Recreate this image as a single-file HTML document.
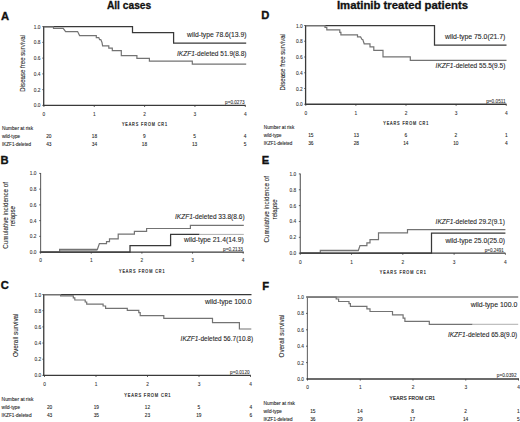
<!DOCTYPE html>
<html><head><meta charset="utf-8"><style>
html,body{margin:0;padding:0;background:#fff;}
svg{display:block;}
text{font-family:"Liberation Sans",sans-serif;}
</style></head><body>
<svg width="520" height="422" viewBox="0 0 520 422" fill="#262626">
<rect width="520" height="422" fill="#fff"/>
<path d="M43.7 26.3V105.4" fill="none" stroke="#3a3a3a" stroke-width="1.3"/>
<path d="M43.20 105.4H245.6" fill="none" stroke="#3a3a3a" stroke-width="1.3"/>
<path d="M42.30 105.40H43.7" stroke="#3a3a3a" stroke-width="0.8"/>
<text x="40.4" y="107.40" font-size="4.8" text-anchor="end" stroke="#333" stroke-width="0.08" fill="#333">0.0</text>
<path d="M42.30 89.64H43.7" stroke="#3a3a3a" stroke-width="0.8"/>
<text x="40.4" y="91.64" font-size="4.8" text-anchor="end" stroke="#333" stroke-width="0.08" fill="#333">0.2</text>
<path d="M42.30 73.88H43.7" stroke="#3a3a3a" stroke-width="0.8"/>
<text x="40.4" y="75.88" font-size="4.8" text-anchor="end" stroke="#333" stroke-width="0.08" fill="#333">0.4</text>
<path d="M42.30 58.12H43.7" stroke="#3a3a3a" stroke-width="0.8"/>
<text x="40.4" y="60.12" font-size="4.8" text-anchor="end" stroke="#333" stroke-width="0.08" fill="#333">0.6</text>
<path d="M42.30 42.36H43.7" stroke="#3a3a3a" stroke-width="0.8"/>
<text x="40.4" y="44.36" font-size="4.8" text-anchor="end" stroke="#333" stroke-width="0.08" fill="#333">0.8</text>
<path d="M42.30 26.60H43.7" stroke="#3a3a3a" stroke-width="0.8"/>
<text x="40.4" y="28.60" font-size="4.8" text-anchor="end" stroke="#333" stroke-width="0.08" fill="#333">1.0</text>
<path d="M43.90 105.4v1.6" stroke="#3a3a3a" stroke-width="0.8"/>
<text x="43.90" y="115.9" font-size="4.8" text-anchor="middle" stroke="#333" stroke-width="0.08" fill="#333">0</text>
<path d="M94.25 105.4v1.6" stroke="#3a3a3a" stroke-width="0.8"/>
<text x="94.25" y="115.9" font-size="4.8" text-anchor="middle" stroke="#333" stroke-width="0.08" fill="#333">1</text>
<path d="M144.60 105.4v1.6" stroke="#3a3a3a" stroke-width="0.8"/>
<text x="144.60" y="115.9" font-size="4.8" text-anchor="middle" stroke="#333" stroke-width="0.08" fill="#333">2</text>
<path d="M194.95 105.4v1.6" stroke="#3a3a3a" stroke-width="0.8"/>
<text x="194.95" y="115.9" font-size="4.8" text-anchor="middle" stroke="#333" stroke-width="0.08" fill="#333">3</text>
<path d="M245.30 105.4v1.6" stroke="#3a3a3a" stroke-width="0.8"/>
<text x="245.30" y="115.9" font-size="4.8" text-anchor="middle" stroke="#333" stroke-width="0.08" fill="#333">4</text>
<text transform="translate(121.9 125.8) scale(0.8 1)" x="0" y="0" font-size="4.7" textLength="56.37" lengthAdjust="spacing" fill="#2a2a2a" stroke="#2a2a2a" stroke-width="0.2">YEARS FROM CR1</text>
<path d="M43.7 26.6H132.5V32.6H173.6V43.2H246.2" fill="none" stroke="#383838" stroke-width="1.25"/>
<path d="M43.7 26.8H53.5V28.3H63.2L65.6 31.6H77.6L79.6 35.6H96.3V37.6H98.8L99.6 39.6H100.8L102 42.5L102.6 45.9H108.8V48.1H112.3V50.6H121.3V55.6H136.9V58.4H149.4V61.2H192.3V64.2H246.2" fill="none" stroke="#737373" stroke-width="1.2"/>
<text x="187.0" y="36.9" font-size="7.1" text-anchor="start" stroke="#262626" stroke-width="0.1" textLength="59.50" lengthAdjust="spacingAndGlyphs">wild-type 78.6(13.9)</text>
<text x="177.0" y="56.1" font-size="7.1" textLength="69.50" lengthAdjust="spacingAndGlyphs" stroke="#262626" stroke-width="0.1"><tspan font-style="italic">IKZF1</tspan>-deleted 51.9(8.8)</text>
<text x="225.1" y="104.2" font-size="4.7" text-anchor="start" stroke="#333" stroke-width="0.08" fill="#333" textLength="19.50" lengthAdjust="spacingAndGlyphs">p=0.0273</text>
<text transform="translate(25.1 63.35) rotate(-90)" x="0" y="0" font-size="6.9" text-anchor="middle" textLength="56.6" lengthAdjust="spacingAndGlyphs" fill="#222" stroke="#222" stroke-width="0.08">Disease free survival</text>
<text x="2.0" y="130.3" font-size="4.6" text-anchor="start" stroke="#222" stroke-width="0.08" fill="#222" textLength="31.10" lengthAdjust="spacingAndGlyphs">Number at risk</text>
<text x="2.0" y="138.0" font-size="4.6" text-anchor="start" stroke="#222" stroke-width="0.08" fill="#222" textLength="18.00" lengthAdjust="spacingAndGlyphs">wild-type</text>
<text x="2.0" y="145.7" font-size="4.6" text-anchor="start" stroke="#222" stroke-width="0.08" fill="#222" textLength="29.00" lengthAdjust="spacingAndGlyphs">IKZF1-deleted</text>
<text x="48.8" y="138.0" font-size="4.8" text-anchor="middle" stroke="#222" stroke-width="0.08" fill="#222">20</text>
<text x="94.4" y="138.0" font-size="4.8" text-anchor="middle" stroke="#222" stroke-width="0.08" fill="#222">18</text>
<text x="144.4" y="138.0" font-size="4.8" text-anchor="middle" stroke="#222" stroke-width="0.08" fill="#222">9</text>
<text x="194.6" y="138.0" font-size="4.8" text-anchor="middle" stroke="#222" stroke-width="0.08" fill="#222">5</text>
<text x="245.0" y="138.0" font-size="4.8" text-anchor="middle" stroke="#222" stroke-width="0.08" fill="#222">4</text>
<text x="48.8" y="145.7" font-size="4.8" text-anchor="middle" stroke="#222" stroke-width="0.08" fill="#222">43</text>
<text x="94.4" y="145.7" font-size="4.8" text-anchor="middle" stroke="#222" stroke-width="0.08" fill="#222">34</text>
<text x="144.4" y="145.7" font-size="4.8" text-anchor="middle" stroke="#222" stroke-width="0.08" fill="#222">18</text>
<text x="194.6" y="145.7" font-size="4.8" text-anchor="middle" stroke="#222" stroke-width="0.08" fill="#222">13</text>
<text x="245.0" y="145.7" font-size="4.8" text-anchor="middle" stroke="#222" stroke-width="0.08" fill="#222">5</text>
<path d="M40.6 173.1V252.1" fill="none" stroke="#666" stroke-width="1.1"/>
<path d="M40.10 252.1H243.8" fill="none" stroke="#3a3a3a" stroke-width="1.3"/>
<path d="M39.20 252.10H40.6" stroke="#3a3a3a" stroke-width="0.8"/>
<text x="36.4" y="254.10" font-size="4.8" text-anchor="end" stroke="#333" stroke-width="0.08" fill="#333">0.0</text>
<path d="M39.20 236.36H40.6" stroke="#3a3a3a" stroke-width="0.8"/>
<text x="36.4" y="238.36" font-size="4.8" text-anchor="end" stroke="#333" stroke-width="0.08" fill="#333">0.2</text>
<path d="M39.20 220.62H40.6" stroke="#3a3a3a" stroke-width="0.8"/>
<text x="36.4" y="222.62" font-size="4.8" text-anchor="end" stroke="#333" stroke-width="0.08" fill="#333">0.4</text>
<path d="M39.20 204.88H40.6" stroke="#3a3a3a" stroke-width="0.8"/>
<text x="36.4" y="206.88" font-size="4.8" text-anchor="end" stroke="#333" stroke-width="0.08" fill="#333">0.6</text>
<path d="M39.20 189.14H40.6" stroke="#3a3a3a" stroke-width="0.8"/>
<text x="36.4" y="191.14" font-size="4.8" text-anchor="end" stroke="#333" stroke-width="0.08" fill="#333">0.8</text>
<path d="M39.20 173.40H40.6" stroke="#3a3a3a" stroke-width="0.8"/>
<text x="36.4" y="175.40" font-size="4.8" text-anchor="end" stroke="#333" stroke-width="0.08" fill="#333">1.0</text>
<path d="M40.60 252.1v1.6" stroke="#3a3a3a" stroke-width="0.8"/>
<text x="40.60" y="262.2" font-size="4.8" text-anchor="middle" stroke="#333" stroke-width="0.08" fill="#333">0</text>
<path d="M91.25 252.1v1.6" stroke="#3a3a3a" stroke-width="0.8"/>
<text x="91.25" y="262.2" font-size="4.8" text-anchor="middle" stroke="#333" stroke-width="0.08" fill="#333">1</text>
<path d="M141.90 252.1v1.6" stroke="#3a3a3a" stroke-width="0.8"/>
<text x="141.90" y="262.2" font-size="4.8" text-anchor="middle" stroke="#333" stroke-width="0.08" fill="#333">2</text>
<path d="M192.55 252.1v1.6" stroke="#3a3a3a" stroke-width="0.8"/>
<text x="192.55" y="262.2" font-size="4.8" text-anchor="middle" stroke="#333" stroke-width="0.08" fill="#333">3</text>
<path d="M243.20 252.1v1.6" stroke="#3a3a3a" stroke-width="0.8"/>
<text x="243.20" y="262.2" font-size="4.8" text-anchor="middle" stroke="#333" stroke-width="0.08" fill="#333">4</text>
<text transform="translate(119.0 272.8) scale(0.8 1)" x="0" y="0" font-size="4.7" textLength="57.00" lengthAdjust="spacing" fill="#2a2a2a" stroke="#2a2a2a" stroke-width="0.2">YEARS FROM CR1</text>
<rect x="59.6" y="249.3" width="37.8" height="2.4" fill="#a4a4a4"/>
<path d="M40.6 252H59.6V249.3H97.4L99.4 243.6H106.5V241.7H109.5V238.8H118.2V234.1H134.4V231.3H146.6V228.5H190.4V225.3H243.8" fill="none" stroke="#737373" stroke-width="1.2"/>
<path d="M40.6 252.1H130V245.5H170.6V234.4H199.4" fill="none" stroke="#383838" stroke-width="1.25"/>
<path d="M199.4 234.4H243.8" fill="none" stroke="#8a8a8a" stroke-width="0.7"/>
<text x="175.0" y="219.1" font-size="7.1" textLength="69.60" lengthAdjust="spacingAndGlyphs" stroke="#262626" stroke-width="0.1"><tspan font-style="italic">IKZF1</tspan>-deleted 33.8(8.6)</text>
<text x="184.0" y="241.9" font-size="7.1" text-anchor="start" stroke="#262626" stroke-width="0.1" textLength="59.80" lengthAdjust="spacingAndGlyphs">wild-type 21.4(14.9)</text>
<text x="223.1" y="251.2" font-size="4.7" text-anchor="start" stroke="#333" stroke-width="0.08" fill="#333" textLength="19.80" lengthAdjust="spacingAndGlyphs">p=0.2133</text>
<text transform="translate(7.7 215.3) rotate(-90)" x="0" y="0" font-size="6.9" text-anchor="middle" textLength="66.8" lengthAdjust="spacingAndGlyphs" fill="#222" stroke="#222" stroke-width="0.08">Cumulative incidence of</text>
<text transform="translate(15.4 216.1) rotate(-90)" x="0" y="0" font-size="6.9" text-anchor="middle" textLength="20.2" lengthAdjust="spacingAndGlyphs" fill="#222" stroke="#222" stroke-width="0.08">relapse</text>
<path d="M43.75 294.2V375.4" fill="none" stroke="#3a3a3a" stroke-width="1.3"/>
<path d="M43.25 375.4H250.8" fill="none" stroke="#3a3a3a" stroke-width="1.3"/>
<path d="M42.35 375.40H43.75" stroke="#3a3a3a" stroke-width="0.8"/>
<text x="41.2" y="377.40" font-size="4.8" text-anchor="end" stroke="#333" stroke-width="0.08" fill="#333">0.0</text>
<path d="M42.35 359.22H43.75" stroke="#3a3a3a" stroke-width="0.8"/>
<text x="41.2" y="361.22" font-size="4.8" text-anchor="end" stroke="#333" stroke-width="0.08" fill="#333">0.2</text>
<path d="M42.35 343.04H43.75" stroke="#3a3a3a" stroke-width="0.8"/>
<text x="41.2" y="345.04" font-size="4.8" text-anchor="end" stroke="#333" stroke-width="0.08" fill="#333">0.4</text>
<path d="M42.35 326.86H43.75" stroke="#3a3a3a" stroke-width="0.8"/>
<text x="41.2" y="328.86" font-size="4.8" text-anchor="end" stroke="#333" stroke-width="0.08" fill="#333">0.6</text>
<path d="M42.35 310.68H43.75" stroke="#3a3a3a" stroke-width="0.8"/>
<text x="41.2" y="312.68" font-size="4.8" text-anchor="end" stroke="#333" stroke-width="0.08" fill="#333">0.8</text>
<path d="M42.35 294.50H43.75" stroke="#3a3a3a" stroke-width="0.8"/>
<text x="41.2" y="296.50" font-size="4.8" text-anchor="end" stroke="#333" stroke-width="0.08" fill="#333">1.0</text>
<path d="M44.50 375.4v1.6" stroke="#3a3a3a" stroke-width="0.8"/>
<text x="44.50" y="385.8" font-size="4.8" text-anchor="middle" stroke="#333" stroke-width="0.08" fill="#333">0</text>
<path d="M96.00 375.4v1.6" stroke="#3a3a3a" stroke-width="0.8"/>
<text x="96.00" y="385.8" font-size="4.8" text-anchor="middle" stroke="#333" stroke-width="0.08" fill="#333">1</text>
<path d="M147.50 375.4v1.6" stroke="#3a3a3a" stroke-width="0.8"/>
<text x="147.50" y="385.8" font-size="4.8" text-anchor="middle" stroke="#333" stroke-width="0.08" fill="#333">2</text>
<path d="M199.00 375.4v1.6" stroke="#3a3a3a" stroke-width="0.8"/>
<text x="199.00" y="385.8" font-size="4.8" text-anchor="middle" stroke="#333" stroke-width="0.08" fill="#333">3</text>
<path d="M250.50 375.4v1.6" stroke="#3a3a3a" stroke-width="0.8"/>
<text x="250.50" y="385.8" font-size="4.8" text-anchor="middle" stroke="#333" stroke-width="0.08" fill="#333">4</text>
<text transform="translate(124.2 396.7) scale(0.8 1)" x="0" y="0" font-size="5.0" textLength="58.00" lengthAdjust="spacing" fill="#2a2a2a" stroke="#2a2a2a" stroke-width="0.2">YEARS FROM CR1</text>
<path d="M43.75 294.5H251.5" fill="none" stroke="#383838" stroke-width="1.25"/>
<path d="M43.75 294.7H60.6V295.9H73.3V297.8H74.8V300H85.2V302H86.7V304.1H103.1V306H105.6V308.4H127.3V310.4H138.8V312.6H140.2V315.6H163.8V318.3H212.5V322.6H239.4V329H251.3" fill="none" stroke="#737373" stroke-width="1.2"/>
<text x="205.0" y="304.4" font-size="7.1" text-anchor="start" stroke="#262626" stroke-width="0.1" textLength="46.50" lengthAdjust="spacingAndGlyphs">wild-type 100.0</text>
<text x="180.6" y="341.3" font-size="7.1" textLength="72.50" lengthAdjust="spacingAndGlyphs" stroke="#262626" stroke-width="0.1"><tspan font-style="italic">IKZF1</tspan>-deleted 56.7(10.8)</text>
<text x="230.1" y="374.1" font-size="4.7" text-anchor="start" stroke="#333" stroke-width="0.08" fill="#333" textLength="19.50" lengthAdjust="spacingAndGlyphs">p=0.0120</text>
<text transform="translate(18.3 335.2) rotate(-90)" x="0" y="0" font-size="6.9" text-anchor="middle" textLength="43.4" lengthAdjust="spacingAndGlyphs" fill="#222" stroke="#222" stroke-width="0.08">Overall survival</text>
<text x="1.6" y="401.0" font-size="4.6" text-anchor="start" stroke="#222" stroke-width="0.08" fill="#222" textLength="31.90" lengthAdjust="spacingAndGlyphs">Number at risk</text>
<text x="1.6" y="409.1" font-size="4.6" text-anchor="start" stroke="#222" stroke-width="0.08" fill="#222" textLength="18.40" lengthAdjust="spacingAndGlyphs">wild-type</text>
<text x="1.6" y="417.0" font-size="4.6" text-anchor="start" stroke="#222" stroke-width="0.08" fill="#222" textLength="30.00" lengthAdjust="spacingAndGlyphs">IKZF1-deleted</text>
<text x="49.6" y="409.1" font-size="4.8" text-anchor="middle" stroke="#222" stroke-width="0.08" fill="#222">20</text>
<text x="96.3" y="409.1" font-size="4.8" text-anchor="middle" stroke="#222" stroke-width="0.08" fill="#222">19</text>
<text x="147.5" y="409.1" font-size="4.8" text-anchor="middle" stroke="#222" stroke-width="0.08" fill="#222">12</text>
<text x="198.8" y="409.1" font-size="4.8" text-anchor="middle" stroke="#222" stroke-width="0.08" fill="#222">5</text>
<text x="250.8" y="409.1" font-size="4.8" text-anchor="middle" stroke="#222" stroke-width="0.08" fill="#222">4</text>
<text x="49.6" y="417.0" font-size="4.8" text-anchor="middle" stroke="#222" stroke-width="0.08" fill="#222">43</text>
<text x="96.3" y="417.0" font-size="4.8" text-anchor="middle" stroke="#222" stroke-width="0.08" fill="#222">35</text>
<text x="147.5" y="417.0" font-size="4.8" text-anchor="middle" stroke="#222" stroke-width="0.08" fill="#222">23</text>
<text x="198.8" y="417.0" font-size="4.8" text-anchor="middle" stroke="#222" stroke-width="0.08" fill="#222">19</text>
<text x="250.8" y="417.0" font-size="4.8" text-anchor="middle" stroke="#222" stroke-width="0.08" fill="#222">6</text>
<path d="M305.6 25.2V104.25" fill="none" stroke="#3a3a3a" stroke-width="1.3"/>
<path d="M305.10 104.25H506.5" fill="none" stroke="#3a3a3a" stroke-width="1.3"/>
<path d="M304.20 104.25H305.6" stroke="#3a3a3a" stroke-width="0.8"/>
<text x="302.6" y="106.25" font-size="4.8" text-anchor="end" stroke="#333" stroke-width="0.08" fill="#333">0.0</text>
<path d="M304.20 88.50H305.6" stroke="#3a3a3a" stroke-width="0.8"/>
<text x="302.6" y="90.50" font-size="4.8" text-anchor="end" stroke="#333" stroke-width="0.08" fill="#333">0.2</text>
<path d="M304.20 72.75H305.6" stroke="#3a3a3a" stroke-width="0.8"/>
<text x="302.6" y="74.75" font-size="4.8" text-anchor="end" stroke="#333" stroke-width="0.08" fill="#333">0.4</text>
<path d="M304.20 57.00H305.6" stroke="#3a3a3a" stroke-width="0.8"/>
<text x="302.6" y="59.00" font-size="4.8" text-anchor="end" stroke="#333" stroke-width="0.08" fill="#333">0.6</text>
<path d="M304.20 41.25H305.6" stroke="#3a3a3a" stroke-width="0.8"/>
<text x="302.6" y="43.25" font-size="4.8" text-anchor="end" stroke="#333" stroke-width="0.08" fill="#333">0.8</text>
<path d="M304.20 25.50H305.6" stroke="#3a3a3a" stroke-width="0.8"/>
<text x="302.6" y="27.50" font-size="4.8" text-anchor="end" stroke="#333" stroke-width="0.08" fill="#333">1.0</text>
<path d="M305.75 104.25v1.6" stroke="#3a3a3a" stroke-width="0.8"/>
<text x="305.75" y="114.7" font-size="4.8" text-anchor="middle" stroke="#333" stroke-width="0.08" fill="#333">0</text>
<path d="M355.88 104.25v1.6" stroke="#3a3a3a" stroke-width="0.8"/>
<text x="355.88" y="114.7" font-size="4.8" text-anchor="middle" stroke="#333" stroke-width="0.08" fill="#333">1</text>
<path d="M406.00 104.25v1.6" stroke="#3a3a3a" stroke-width="0.8"/>
<text x="406.00" y="114.7" font-size="4.8" text-anchor="middle" stroke="#333" stroke-width="0.08" fill="#333">2</text>
<path d="M456.12 104.25v1.6" stroke="#3a3a3a" stroke-width="0.8"/>
<text x="456.12" y="114.7" font-size="4.8" text-anchor="middle" stroke="#333" stroke-width="0.08" fill="#333">3</text>
<path d="M506.25 104.25v1.6" stroke="#3a3a3a" stroke-width="0.8"/>
<text x="506.25" y="114.7" font-size="4.8" text-anchor="middle" stroke="#333" stroke-width="0.08" fill="#333">4</text>
<text transform="translate(383.3 124.8) scale(0.8 1)" x="0" y="0" font-size="4.7" textLength="56.25" lengthAdjust="spacing" fill="#2a2a2a" stroke="#2a2a2a" stroke-width="0.2">YEARS FROM CR1</text>
<path d="M305.6 25.5H434.5V45H506.5" fill="none" stroke="#383838" stroke-width="1.25"/>
<path d="M305.6 25.7H325V27.4H326.8V29.8H339.8V32.3H340.9V34.8H357.5V36.9H360.6L362 39.5H362.8L364.2 43.8H370V46.9H373.8V50.3H383V56.9H410.3V60.3H506.5" fill="none" stroke="#737373" stroke-width="1.2"/>
<text x="445.0" y="38.9" font-size="7.1" text-anchor="start" stroke="#262626" stroke-width="0.1" textLength="60.40" lengthAdjust="spacingAndGlyphs">wild-type 75.0(21.7)</text>
<text x="435.6" y="68.1" font-size="7.1" textLength="69.80" lengthAdjust="spacingAndGlyphs" stroke="#262626" stroke-width="0.1"><tspan font-style="italic">IKZF1</tspan>-deleted 55.5(9.5)</text>
<text x="486.2" y="103.2" font-size="4.7" text-anchor="start" stroke="#333" stroke-width="0.08" fill="#333" textLength="19.50" lengthAdjust="spacingAndGlyphs">p=0.0511</text>
<text transform="translate(285.2 62.3) rotate(-90)" x="0" y="0" font-size="6.9" text-anchor="middle" textLength="56.4" lengthAdjust="spacingAndGlyphs" fill="#222" stroke="#222" stroke-width="0.08">Disease free survival</text>
<text x="263.8" y="128.6" font-size="4.6" text-anchor="start" stroke="#222" stroke-width="0.08" fill="#222" textLength="30.50" lengthAdjust="spacingAndGlyphs">Number at risk</text>
<text x="263.8" y="136.6" font-size="4.6" text-anchor="start" stroke="#222" stroke-width="0.08" fill="#222" textLength="17.80" lengthAdjust="spacingAndGlyphs">wild-type</text>
<text x="263.8" y="144.6" font-size="4.6" text-anchor="start" stroke="#222" stroke-width="0.08" fill="#222" textLength="28.50" lengthAdjust="spacingAndGlyphs">IKZF1-deleted</text>
<text x="310.8" y="136.6" font-size="4.8" text-anchor="middle" stroke="#222" stroke-width="0.08" fill="#222">15</text>
<text x="356.3" y="136.6" font-size="4.8" text-anchor="middle" stroke="#222" stroke-width="0.08" fill="#222">13</text>
<text x="405.8" y="136.6" font-size="4.8" text-anchor="middle" stroke="#222" stroke-width="0.08" fill="#222">6</text>
<text x="455.8" y="136.6" font-size="4.8" text-anchor="middle" stroke="#222" stroke-width="0.08" fill="#222">2</text>
<text x="506.3" y="136.6" font-size="4.8" text-anchor="middle" stroke="#222" stroke-width="0.08" fill="#222">1</text>
<text x="310.8" y="144.6" font-size="4.8" text-anchor="middle" stroke="#222" stroke-width="0.08" fill="#222">36</text>
<text x="356.3" y="144.6" font-size="4.8" text-anchor="middle" stroke="#222" stroke-width="0.08" fill="#222">28</text>
<text x="405.8" y="144.6" font-size="4.8" text-anchor="middle" stroke="#222" stroke-width="0.08" fill="#222">14</text>
<text x="455.8" y="144.6" font-size="4.8" text-anchor="middle" stroke="#222" stroke-width="0.08" fill="#222">10</text>
<text x="506.3" y="144.6" font-size="4.8" text-anchor="middle" stroke="#222" stroke-width="0.08" fill="#222">4</text>
<path d="M300.25 173.6V253.2" fill="none" stroke="#4a4a4a" stroke-width="1.0"/>
<path d="M299.75 253.2H505.4" fill="none" stroke="#3a3a3a" stroke-width="1.3"/>
<path d="M298.85 253.20H300.25" stroke="#3a3a3a" stroke-width="0.8"/>
<text x="296.2" y="255.20" font-size="4.8" text-anchor="end" stroke="#333" stroke-width="0.08" fill="#333">0.0</text>
<path d="M298.85 237.34H300.25" stroke="#3a3a3a" stroke-width="0.8"/>
<text x="296.2" y="239.34" font-size="4.8" text-anchor="end" stroke="#333" stroke-width="0.08" fill="#333">0.2</text>
<path d="M298.85 221.48H300.25" stroke="#3a3a3a" stroke-width="0.8"/>
<text x="296.2" y="223.48" font-size="4.8" text-anchor="end" stroke="#333" stroke-width="0.08" fill="#333">0.4</text>
<path d="M298.85 205.62H300.25" stroke="#3a3a3a" stroke-width="0.8"/>
<text x="296.2" y="207.62" font-size="4.8" text-anchor="end" stroke="#333" stroke-width="0.08" fill="#333">0.6</text>
<path d="M298.85 189.76H300.25" stroke="#3a3a3a" stroke-width="0.8"/>
<text x="296.2" y="191.76" font-size="4.8" text-anchor="end" stroke="#333" stroke-width="0.08" fill="#333">0.8</text>
<path d="M298.85 173.90H300.25" stroke="#3a3a3a" stroke-width="0.8"/>
<text x="296.2" y="175.90" font-size="4.8" text-anchor="end" stroke="#333" stroke-width="0.08" fill="#333">1.0</text>
<path d="M300.25 253.2v1.6" stroke="#3a3a3a" stroke-width="0.8"/>
<text x="300.25" y="263.6" font-size="4.8" text-anchor="middle" stroke="#333" stroke-width="0.08" fill="#333">0</text>
<path d="M351.54 253.2v1.6" stroke="#3a3a3a" stroke-width="0.8"/>
<text x="351.54" y="263.6" font-size="4.8" text-anchor="middle" stroke="#333" stroke-width="0.08" fill="#333">1</text>
<path d="M402.82 253.2v1.6" stroke="#3a3a3a" stroke-width="0.8"/>
<text x="402.82" y="263.6" font-size="4.8" text-anchor="middle" stroke="#333" stroke-width="0.08" fill="#333">2</text>
<path d="M454.11 253.2v1.6" stroke="#3a3a3a" stroke-width="0.8"/>
<text x="454.11" y="263.6" font-size="4.8" text-anchor="middle" stroke="#333" stroke-width="0.08" fill="#333">3</text>
<path d="M505.40 253.2v1.6" stroke="#3a3a3a" stroke-width="0.8"/>
<text x="505.40" y="263.6" font-size="4.8" text-anchor="middle" stroke="#333" stroke-width="0.08" fill="#333">4</text>
<text transform="translate(379.8 274.0) scale(0.8 1)" x="0" y="0" font-size="4.7" textLength="57.50" lengthAdjust="spacing" fill="#2a2a2a" stroke="#2a2a2a" stroke-width="0.2">YEARS FROM CR1</text>
<rect x="320.3" y="250.6" width="38.4" height="2" fill="#d6d6d6"/>
<path d="M300.25 253H320.3V250.3H358.4L360 245.6H366.9V242.8H370V239.6H378.5V232.8H407.5V229.6H505.4" fill="none" stroke="#737373" stroke-width="1.2"/>
<path d="M300.25 253.2H431.5V233H505.4" fill="none" stroke="#383838" stroke-width="1.25"/>
<text x="435.6" y="223.8" font-size="7.1" textLength="69.30" lengthAdjust="spacingAndGlyphs" stroke="#262626" stroke-width="0.1"><tspan font-style="italic">IKZF1</tspan>-deleted 29.2(9.1)</text>
<text x="445.4" y="242.6" font-size="7.1" text-anchor="start" stroke="#262626" stroke-width="0.1" textLength="59.60" lengthAdjust="spacingAndGlyphs">wild-type 25.0(25.0)</text>
<text x="484.7" y="252.2" font-size="4.7" text-anchor="start" stroke="#333" stroke-width="0.08" fill="#333" textLength="19.20" lengthAdjust="spacingAndGlyphs">p=0.2491</text>
<text transform="translate(269.0 209.25) rotate(-90)" x="0" y="0" font-size="6.9" text-anchor="middle" textLength="66.5" lengthAdjust="spacingAndGlyphs" fill="#222" stroke="#222" stroke-width="0.08">Cumulative incidence of</text>
<text transform="translate(276.7 209.4) rotate(-90)" x="0" y="0" font-size="6.9" text-anchor="middle" textLength="20.0" lengthAdjust="spacingAndGlyphs" fill="#222" stroke="#222" stroke-width="0.08">relapse</text>
<path d="M307.4 296.7V379.0" fill="none" stroke="#6a6a6a" stroke-width="1.1"/>
<path d="M306.90 379.0H519.0" fill="none" stroke="#3a3a3a" stroke-width="1.3"/>
<path d="M306.00 379.00H307.4" stroke="#3a3a3a" stroke-width="0.8"/>
<text x="304.0" y="381.00" font-size="4.8" text-anchor="end" stroke="#333" stroke-width="0.08" fill="#333">0.0</text>
<path d="M306.00 362.60H307.4" stroke="#3a3a3a" stroke-width="0.8"/>
<text x="304.0" y="364.60" font-size="4.8" text-anchor="end" stroke="#333" stroke-width="0.08" fill="#333">0.2</text>
<path d="M306.00 346.20H307.4" stroke="#3a3a3a" stroke-width="0.8"/>
<text x="304.0" y="348.20" font-size="4.8" text-anchor="end" stroke="#333" stroke-width="0.08" fill="#333">0.4</text>
<path d="M306.00 329.80H307.4" stroke="#3a3a3a" stroke-width="0.8"/>
<text x="304.0" y="331.80" font-size="4.8" text-anchor="end" stroke="#333" stroke-width="0.08" fill="#333">0.6</text>
<path d="M306.00 313.40H307.4" stroke="#3a3a3a" stroke-width="0.8"/>
<text x="304.0" y="315.40" font-size="4.8" text-anchor="end" stroke="#333" stroke-width="0.08" fill="#333">0.8</text>
<path d="M306.00 297.00H307.4" stroke="#3a3a3a" stroke-width="0.8"/>
<text x="304.0" y="299.00" font-size="4.8" text-anchor="end" stroke="#333" stroke-width="0.08" fill="#333">1.0</text>
<path d="M307.50 379.0v1.6" stroke="#3a3a3a" stroke-width="0.8"/>
<text x="307.50" y="388.6" font-size="4.8" text-anchor="middle" stroke="#333" stroke-width="0.08" fill="#333">0</text>
<path d="M360.25 379.0v1.6" stroke="#3a3a3a" stroke-width="0.8"/>
<text x="360.25" y="388.6" font-size="4.8" text-anchor="middle" stroke="#333" stroke-width="0.08" fill="#333">1</text>
<path d="M413.00 379.0v1.6" stroke="#3a3a3a" stroke-width="0.8"/>
<text x="413.00" y="388.6" font-size="4.8" text-anchor="middle" stroke="#333" stroke-width="0.08" fill="#333">2</text>
<path d="M465.75 379.0v1.6" stroke="#3a3a3a" stroke-width="0.8"/>
<text x="465.75" y="388.6" font-size="4.8" text-anchor="middle" stroke="#333" stroke-width="0.08" fill="#333">3</text>
<path d="M518.50 379.0v1.6" stroke="#3a3a3a" stroke-width="0.8"/>
<text x="518.50" y="388.6" font-size="4.8" text-anchor="middle" stroke="#333" stroke-width="0.08" fill="#333">4</text>
<text transform="translate(389.5 399.6) scale(1.0 1)" x="0" y="0" font-size="4.8" textLength="45.50" lengthAdjust="spacing" fill="#2a2a2a" stroke="#2a2a2a" stroke-width="0.2">YEARS FROM CR1</text>
<path d="M306.4 297H518.2" fill="none" stroke="#7c7c7c" stroke-width="1.6"/>
<path d="M307.4 297.2H336.2V299H338.6V301.5H349V303.6H350.4V306.3H366.9V308.8H370V311.5H392.5V314.8H403.1V318.1H404.9V321.4H429.3V324.3H472.5" fill="none" stroke="#737373" stroke-width="1.2"/>
<path d="M472.5 324.3H518.2" fill="none" stroke="#9a9a9a" stroke-width="0.8"/>
<text x="470.7" y="306.6" font-size="7.1" text-anchor="start" stroke="#262626" stroke-width="0.1" textLength="46.60" lengthAdjust="spacingAndGlyphs">wild-type 100.0</text>
<text x="447.9" y="337.1" font-size="7.1" textLength="69.40" lengthAdjust="spacingAndGlyphs" stroke="#262626" stroke-width="0.1"><tspan font-style="italic">IKZF1</tspan>-deleted 65.8(9.0)</text>
<text x="496.8" y="377.4" font-size="4.7" text-anchor="start" stroke="#333" stroke-width="0.08" fill="#333" textLength="19.80" lengthAdjust="spacingAndGlyphs">p=0.0392</text>
<text transform="translate(283.9 336.0) rotate(-90)" x="0" y="0" font-size="6.9" text-anchor="middle" textLength="42.9" lengthAdjust="spacingAndGlyphs" fill="#222" stroke="#222" stroke-width="0.08">Overall survival</text>
<text x="263.5" y="404.7" font-size="4.6" text-anchor="start" stroke="#222" stroke-width="0.08" fill="#222" textLength="31.50" lengthAdjust="spacingAndGlyphs">Number at risk</text>
<text x="263.5" y="412.6" font-size="4.6" text-anchor="start" stroke="#222" stroke-width="0.08" fill="#222" textLength="18.40" lengthAdjust="spacingAndGlyphs">wild-type</text>
<text x="263.5" y="421.0" font-size="4.6" text-anchor="start" stroke="#222" stroke-width="0.08" fill="#222" textLength="29.00" lengthAdjust="spacingAndGlyphs">IKZF1-deleted</text>
<text x="312.8" y="412.6" font-size="4.8" text-anchor="middle" stroke="#222" stroke-width="0.08" fill="#222">15</text>
<text x="360.0" y="412.6" font-size="4.8" text-anchor="middle" stroke="#222" stroke-width="0.08" fill="#222">14</text>
<text x="412.5" y="412.6" font-size="4.8" text-anchor="middle" stroke="#222" stroke-width="0.08" fill="#222">8</text>
<text x="465.6" y="412.6" font-size="4.8" text-anchor="middle" stroke="#222" stroke-width="0.08" fill="#222">2</text>
<text x="518.4" y="412.6" font-size="4.8" text-anchor="middle" stroke="#222" stroke-width="0.08" fill="#222">1</text>
<text x="312.8" y="421.0" font-size="4.8" text-anchor="middle" stroke="#222" stroke-width="0.08" fill="#222">36</text>
<text x="360.0" y="421.0" font-size="4.8" text-anchor="middle" stroke="#222" stroke-width="0.08" fill="#222">29</text>
<text x="412.5" y="421.0" font-size="4.8" text-anchor="middle" stroke="#222" stroke-width="0.08" fill="#222">17</text>
<text x="465.6" y="421.0" font-size="4.8" text-anchor="middle" stroke="#222" stroke-width="0.08" fill="#222">14</text>
<text x="518.4" y="421.0" font-size="4.8" text-anchor="middle" stroke="#222" stroke-width="0.08" fill="#222">5</text>
<text x="106.9" y="9.4" font-size="11.0" text-anchor="start" stroke="#111" stroke-width="0.3" font-weight="bold" fill="#111" textLength="44.35" lengthAdjust="spacingAndGlyphs">All cases</text>
<text x="336.9" y="9.4" font-size="11.0" text-anchor="start" stroke="#111" stroke-width="0.3" font-weight="bold" fill="#111" textLength="131.20" lengthAdjust="spacingAndGlyphs">Imatinib treated patients</text>
<text x="0.9" y="19.6" font-size="11.2" text-anchor="start" stroke="#111" stroke-width="0.35" font-weight="bold" fill="#111">A</text>
<text x="0.5" y="164.1" font-size="11.2" text-anchor="start" stroke="#111" stroke-width="0.35" font-weight="bold" fill="#111">B</text>
<text x="0.8" y="289.1" font-size="11.2" text-anchor="start" stroke="#111" stroke-width="0.35" font-weight="bold" fill="#111">C</text>
<text x="261.2" y="19.4" font-size="11.2" text-anchor="start" stroke="#111" stroke-width="0.35" font-weight="bold" fill="#111">D</text>
<text x="261.7" y="164.4" font-size="11.2" text-anchor="start" stroke="#111" stroke-width="0.35" font-weight="bold" fill="#111">E</text>
<text x="262.3" y="290.0" font-size="11.2" text-anchor="start" stroke="#111" stroke-width="0.35" font-weight="bold" fill="#111">F</text>
</svg>
</body></html>
